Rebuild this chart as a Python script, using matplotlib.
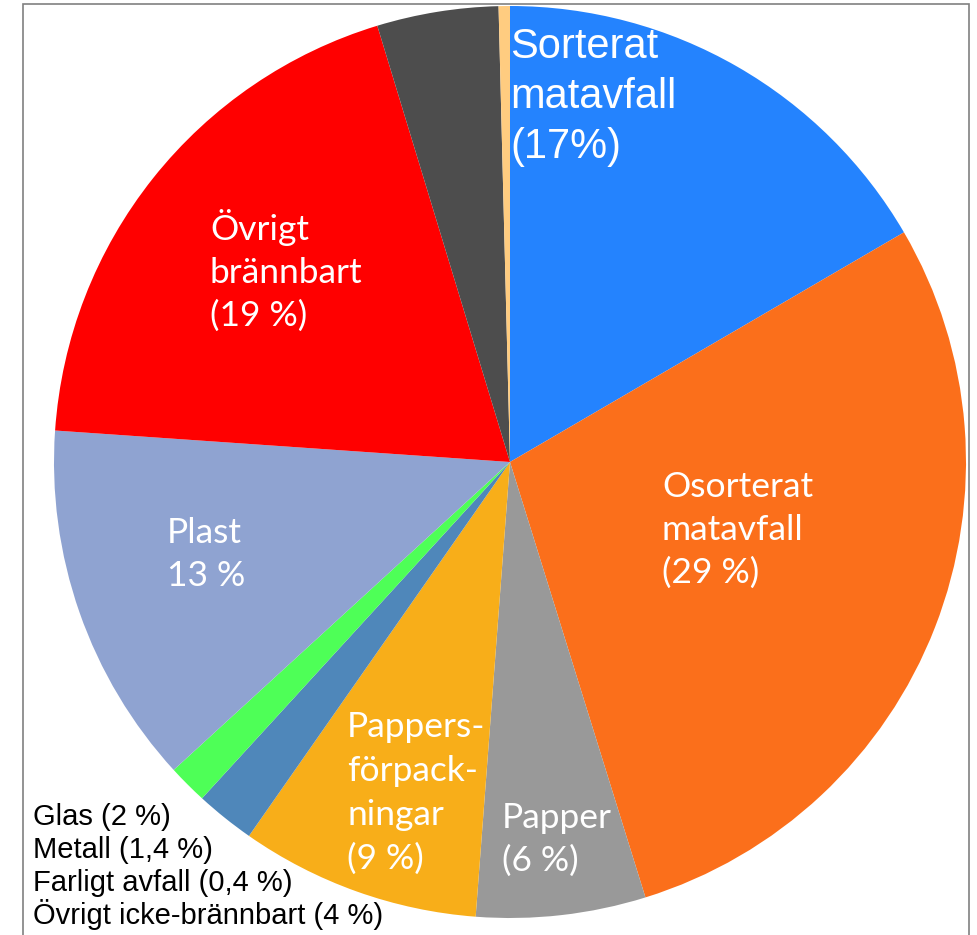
import matplotlib.pyplot as plt
from matplotlib.patches import Rectangle

# Andelar av avfallet, medurs från klockan tolv
kategorier = [
    "Sorterat matavfall",
    "Osorterat matavfall",
    "Papper",
    "Pappersförpackningar",
    "Glas",
    "Metall",
    "Plast",
    "Övrigt brännbart",
    "Övrigt icke-brännbart",
    "Farligt avfall",
]
andelar = [16.6, 28.6, 6.0, 8.5, 2.1, 1.4, 12.9, 19.2, 4.3, 0.4]
farger = [
    "#2483fe", "#fb6f1b", "#999999", "#f8ae19", "#4f87ba",
    "#4eff57", "#8fa3d1", "#ff0000", "#4d4d4d", "#ffcc80",
]

# etiketter i tårtbitarna (rad för rad)
etikett_sorterat = ["Sorterat", "matavfall", "(17%)"]
etikett_osorterat = ["Osorterat", "matavfall", "(29 %)"]
etikett_papper = ["Papper", "(6 %)"]
etikett_forpack = ["Pappers-", "förpack-", "ningar", "(9 %)"]
etikett_plast = ["Plast", "13 %"]
etikett_brannbart = ["Övrigt", "brännbart", "(19 %)"]
forklaring = [
    "Glas (2 %)",
    "Metall (1,4 %)",
    "Farligt avfall (0,4 %)",
    "Övrigt icke-brännbart (4 %)",
]

B, H = 977, 935
fig = plt.figure(figsize=(B / 100, H / 100), dpi=100)
ax = fig.add_axes([0, 0, 1, 1])

ax.pie(
    andelar,
    colors=farger,
    startangle=90,
    counterclock=False,
    center=(510, H - 462),
    radius=456,
    frame=True,
)
ax.set_xlim(0, B)
ax.set_ylim(0, H)
ax.set_aspect("equal")
ax.axis("off")

# ram runt bilden (ingen underkant)
ax.add_patch(Rectangle((23, -10), 969 - 23, H - 4 + 10, fill=False,
                       edgecolor="#808080", linewidth=1.2))


def skriv(rader, x, y0, steg, **kw):
    for i, rad in enumerate(rader):
        ax.text(x, H - (y0 + i * steg), rad, va="baseline", ha="left", **kw)


calibri = dict(family=["Lato", "DejaVu Sans"], fontsize=25.5, color="white")
arial = dict(family=["Liberation Sans", "DejaVu Sans"], color="white")

skriv(etikett_sorterat, 510, 58, 50, fontsize=30, **arial)
skriv(etikett_brannbart, 210, 240, 43, **calibri)
skriv(etikett_osorterat, 662, 497, 43, **calibri)
skriv(etikett_plast, 167, 543, 43, **calibri)
skriv(etikett_forpack, 347, 737, 44, **calibri)
skriv(etikett_papper, 502, 828, 43, **calibri)

skriv(forklaring, 33, 825, 33, fontsize=21,
      family=["Liberation Sans", "DejaVu Sans"], color="black")

fig.savefig("out.png", dpi=100)
